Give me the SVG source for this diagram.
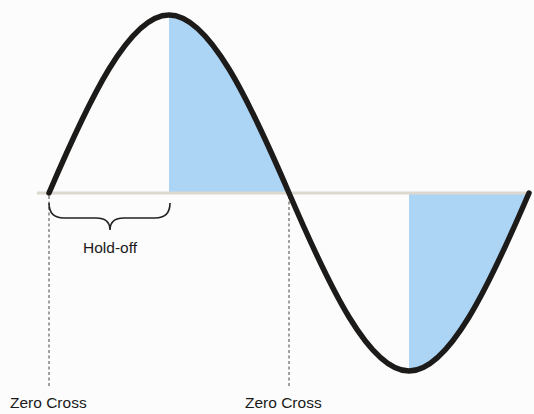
<svg xmlns="http://www.w3.org/2000/svg" width="534" height="414" viewBox="0 0 534 414">
<style>
.shade{fill:#acd4f5;stroke:none}
.axis{stroke:#dcd8cf;stroke-width:3;fill:none}
.wave{stroke:#1c1b19;stroke-width:5.5;fill:none;stroke-linecap:round}
.dash{stroke:#444;stroke-width:1;stroke-dasharray:3,2.5;fill:none}
.brace{stroke:#222;stroke-width:1.6;fill:none}
.lbl{font-family:"Liberation Sans",Arial,sans-serif;font-size:15.5px;fill:#1a1a1a}
</style>
<rect width="534" height="414" fill="#fcfcfc"/>
<g id="shading">
<path class="shade" d="M169,15 C209,15 249,99.8 289,193 L169,193 Z"/>
<path class="shade" d="M409,371 C449,371 489,286.2 529,193 L409,193 Z"/>
</g>
<g id="connectors">
<line class="axis" x1="37" y1="193" x2="531" y2="193"/>
<line class="dash" x1="49" y1="196" x2="49" y2="386"/>
<line class="dash" x1="289" y1="196" x2="289" y2="386"/>
</g>
<g id="wave">
<path class="wave" d="M49,193 C89,99.8 129,15 169,15 C209,15 249,99.8 289,193 C329,286.2 369,371 409,371 C449,371 489,286.2 529,193"/>
</g>
<g id="holdoff">
<path class="brace" d="M49,203 Q49,218 64,218 L96,218 Q110,218 110,230 Q110,218 124,218 L155,218 Q170,218 170,203"/>
<text class="lbl" x="110" y="253" text-anchor="middle">Hold-off</text>
</g>
<g id="zc1"><text class="lbl" x="10" y="408">Zero Cross</text></g>
<g id="zc2"><text class="lbl" x="245" y="408">Zero Cross</text></g>
</svg>
